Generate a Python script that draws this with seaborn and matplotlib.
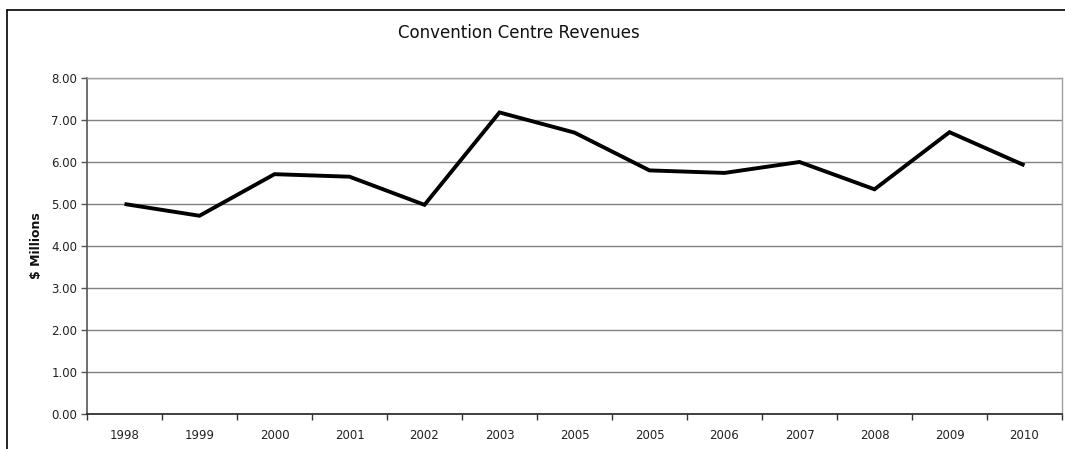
import matplotlib
matplotlib.use("Agg")
import matplotlib.pyplot as plt
from matplotlib.lines import Line2D
import seaborn as sns
import pandas as pd

years = ["1998", "1999", "2000", "2001", "2002", "2003", "2005",
         "2005", "2006", "2007", "2008", "2009", "2010"]
revenues = [5.00, 4.72, 5.71, 5.65, 4.98, 7.18, 6.70,
            5.80, 5.74, 6.00, 5.35, 6.71, 5.92]
y_ticks = [0, 1, 2, 3, 4, 5, 6, 7, 8]

sns.set_theme(style="white")
plt.rcParams["font.family"] = ["DejaVu Sans"]

W, H = 1065, 449
fig = plt.figure(figsize=(W / 100, H / 100), dpi=100)
# plot area in pixel terms: x 87..1062, y 78..414
ax = fig.add_axes([87 / W, 1 - 414 / H, (1062 - 87) / W, (414 - 78) / H])

df = pd.DataFrame({"pos": range(len(years)), "rev": revenues})
sns.lineplot(data=df, x="pos", y="rev", ax=ax, color="black",
             linewidth=2.8, solid_joinstyle="miter", solid_capstyle="butt")

ax.set_xlim(-0.5, len(years) - 0.5)
ax.set_ylim(0, 8)

# category labels centred, tick marks on category boundaries
ax.set_xticks(range(len(years)))
ax.set_xticklabels(years, fontsize=8.5, color="#222222")
ax.set_xticks([i - 0.5 for i in range(len(years) + 1)], minor=True)
ax.tick_params(axis="x", which="major", length=0, pad=11)
ax.tick_params(axis="x", which="minor", length=4, width=1, color="#333333",
               direction="out", bottom=True)

ax.set_yticks(y_ticks)
ax.set_yticklabels([f"{v:.2f}" for v in y_ticks], fontsize=8.5, color="#222222")
ax.tick_params(axis="y", length=4, width=1, color="#555555",
               direction="out", left=True, pad=3)

ax.grid(axis="y", color="#808080", linewidth=1)
ax.set_axisbelow(True)

for side in ["top", "right"]:
    ax.spines[side].set_visible(True)
    ax.spines[side].set_color("#a0a0a0")
    ax.spines[side].set_linewidth(1)
ax.spines["left"].set_color("#555555")
ax.spines["left"].set_linewidth(1.2)
ax.spines["bottom"].set_color("#222222")
ax.spines["bottom"].set_linewidth(1.2)

ax.set_xlabel("")
ax.set_ylabel("$ Millions", fontsize=9, fontweight="bold", color="#111111",
              labelpad=6)

fig.text(519 / W, 1 - 33 / H, "Convention Centre Revenues",
         ha="center", va="center", fontsize=12, color="#111111")

# chart frame (top and left edges)
fig.add_artist(Line2D([7 / W, 1.0], [1 - 9.5 / H, 1 - 9.5 / H],
                      transform=fig.transFigure, color="black", linewidth=1.2))
fig.add_artist(Line2D([7 / W, 7 / W], [1 - 9.5 / H, 0.0],
                      transform=fig.transFigure, color="black", linewidth=1.2))

fig.savefig("out.png", dpi=100, facecolor="white")
